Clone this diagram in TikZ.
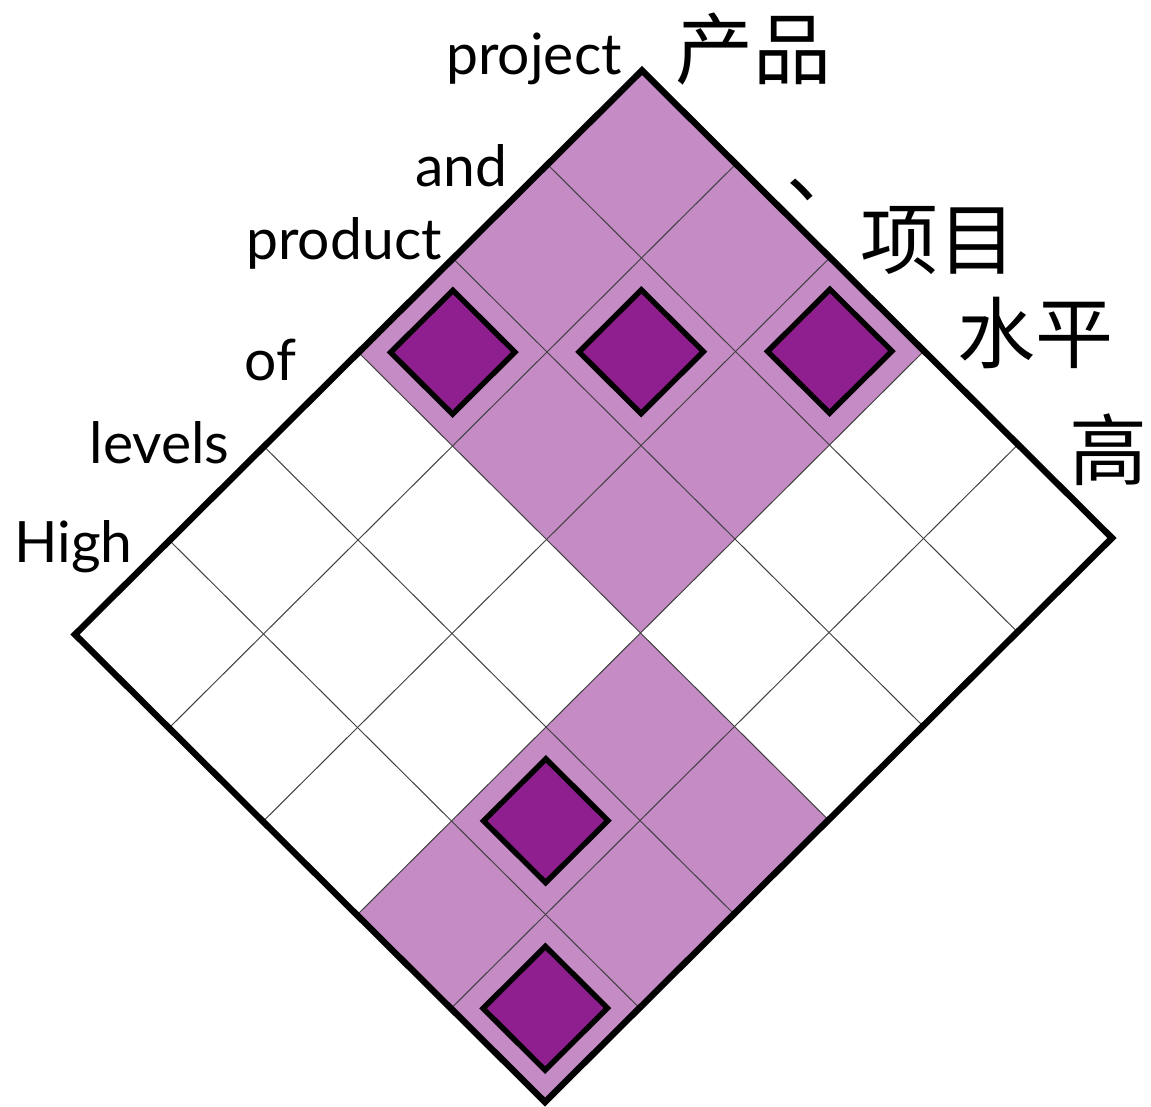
\documentclass[tikz,border=0pt]{standalone}
\usepackage{fontspec}
\setmainfont{Lato}
\newfontfamily\cjkfont{Noto Sans CJK SC}

\definecolor{lightplum}{RGB}{197,139,196}
\definecolor{darkplum}{RGB}{143,31,143}

\tikzset{
  cellline/.style={line width=.5pt, black!75},
  frame/.style={line width=3.2pt, line join=miter},
  marker/.style={fill=darkplum, draw=black, line width=2.7pt, line join=miter},
  engword/.style={anchor=base east, inner sep=0pt, font=\fontsize{28.5}{28.5}\selectfont},
  cjkword/.style={inner sep=0pt, font=\cjkfont\fontsize{39}{39}\selectfont},
}

\begin{document}
\begin{tikzpicture}[x=.5pt, y=-.5pt]
\useasboundingbox (0,0) rectangle (1151,1107);

% the tilted board, 5 x 6 cells
\begin{scope}[shift={(642,70.5)}, x={(47pt,-46.75pt)}, y={(-47.25pt,-47pt)}]
\fill [lightplum] (0,0) -- (3,0) -- (3,3) -- (0,3) -- cycle;
\fill [lightplum] (3,3) -- (5,3) -- (5,6) -- (3,6) -- cycle;

\foreach \i in {1,...,4} \draw [cellline] (\i,0) -- (\i,6);
\foreach \j in {1,...,5} \draw [cellline] (0,\j) -- (5,\j);

\draw [frame] (0,0) -- (5,0) -- (5,6) -- (0,6) -- cycle;

\foreach \i/\j in {0/2, 1/1, 2/0, 3/4, 4/5}
  \draw [marker] (\i+.17,\j+.17) -- (\i+.83,\j+.17) -- (\i+.83,\j+.83) -- (\i+.17,\j+.83) -- cycle;
\end{scope}

% words down the left edge
\node [engword] (w-project) at (622,75) {project};
\node [engword] (w-and) at (508,187) {and};
\node [engword] (w-product) at (442,260) {product};
\node [engword] (w-of) at (297,380) {of};
\node [engword] (w-levels) at (230,463) {levels};
\node [engword] (w-high) at (133,562) {High};

% words down the right edge
\node [cjkword] (c-chanpin) at (753,49) {产品};
\node [cjkword] (c-dunhao) at (825,190) {、};
\node [cjkword] (c-xiangmu) at (938,241) {项目};
\node [cjkword] (c-shuiping) at (1035,333) {水平};
\node [cjkword] (c-gao) at (1108,450) {高};

\end{tikzpicture}
\end{document}
